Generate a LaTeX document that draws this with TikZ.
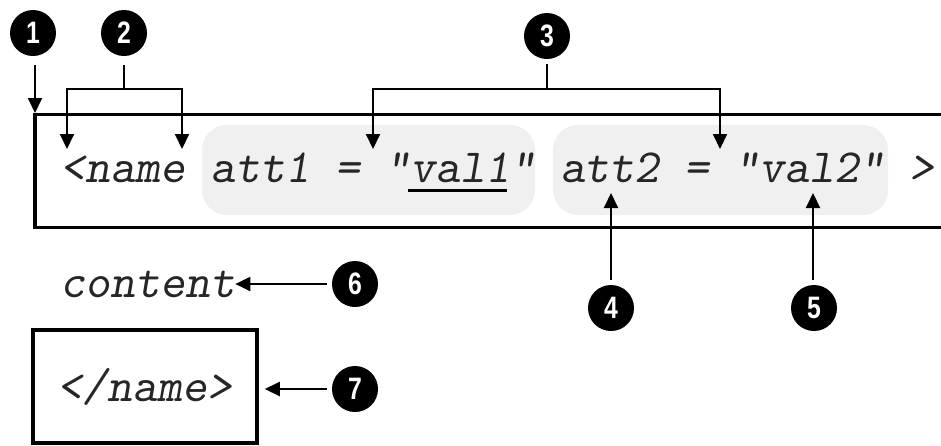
\documentclass[tikz,border=0pt]{standalone}
\usepackage{fontspec}
\usepackage{graphicx}
\newfontfamily\numfont{Liberation Sans}
\usetikzlibrary{arrows.meta}
\begin{document}
\begin{tikzpicture}[x=1pt,y=-1pt,
  num/.style={circle,fill=black,minimum size=46pt,inner sep=0pt,text=white,
    font=\numfont\bfseries\fontsize{31}{31}\selectfont},
  codefont/.style={font=\ttfamily\slshape\fontsize{47.6}{48}\selectfont},
  code/.style={codefont,inner sep=0pt,anchor=base west,text=black!85},
  pointer/.style={line width=2pt,-{Triangle[width=14pt,length=15pt]}},
  bracket/.style={line width=2pt},
  frame/.style={line width=3pt},
  shade/.style={fill=black!6,rounded corners=25pt}]
\useasboundingbox (0,0) rectangle (941,445);

% shaded attribute areas
\fill[shade] (202,125) rectangle (535,215);
\fill[shade] (553,125) rectangle (888,215);

% start tag frame (open on the right)
\draw[frame] (941,114) -- (35,114);
\draw[frame] (35,227) -- (941,227);
\draw[line width=4pt] (35,112.5) -- (35,228.5);

% start tag text
\node[code] (tag) at (60,182) {<name att1 = "val1" att2 = "val2" >};
\draw[line width=3pt] (408,190) -- (507,190);

% callouts
\node[num] (n1) at (33,33) {\scalebox{0.8}[1]{1}};
\node[num] (n2) at (124,33) {\scalebox{0.8}[1]{2}};
\node[num] (n3) at (547,36) {\scalebox{0.8}[1]{3}};
\node[num] (n4) at (611,308) {\scalebox{0.8}[1]{4}};
\node[num] (n5) at (814,308) {\scalebox{0.8}[1]{5}};
\node[num] (n6) at (355,284) {\scalebox{0.8}[1]{6}};
\node[num] (n7) at (355,389) {\scalebox{0.8}[1]{7}};

% arrow targets
\coordinate (t1) at (35,113);
\coordinate (b2) at (124,89);
\coordinate (t2l) at (67,149);
\coordinate (t2r) at (182,149);
\coordinate (b3) at (547,89);
\coordinate (t3l) at (373,149);
\coordinate (t3r) at (720,149);
\coordinate (t4) at (611,193);
\coordinate (t5) at (813,193);

% 1
\draw[pointer,shorten <=9pt] (n1.south -| t1) -- (t1);
% 2
\draw[bracket,shorten <=9pt] (n2.south) -- (b2);
\draw[pointer] (b2) -| (t2l);
\draw[pointer] (b2) -| (t2r);
% 3
\draw[bracket,shorten <=5pt] (n3.south) -- (b3);
\draw[pointer] (b3) -| (t3l);
\draw[pointer] (b3) -| (t3r);
% 4, 5
\draw[pointer,shorten <=5pt] (n4.north) -- (t4);
\draw[pointer,shorten <=5pt] (n5.north -| t5) -- (t5);

% content
\node[code] (content) at (60,297) {content};
\draw[pointer,shorten <=5pt] (n6.west) -- (n6.west -| content.east);

% end tag
\node[draw,line width=3.5pt,minimum width=224pt,minimum height=113pt,
  inner sep=0pt,text=black!85,codefont]
  (endtag) at (145,386.5) {</name>};
\draw[pointer,shorten <=5pt,shorten >=6pt] (n7.west) -- (n7.west -| endtag.east);
\end{tikzpicture}
\end{document}
